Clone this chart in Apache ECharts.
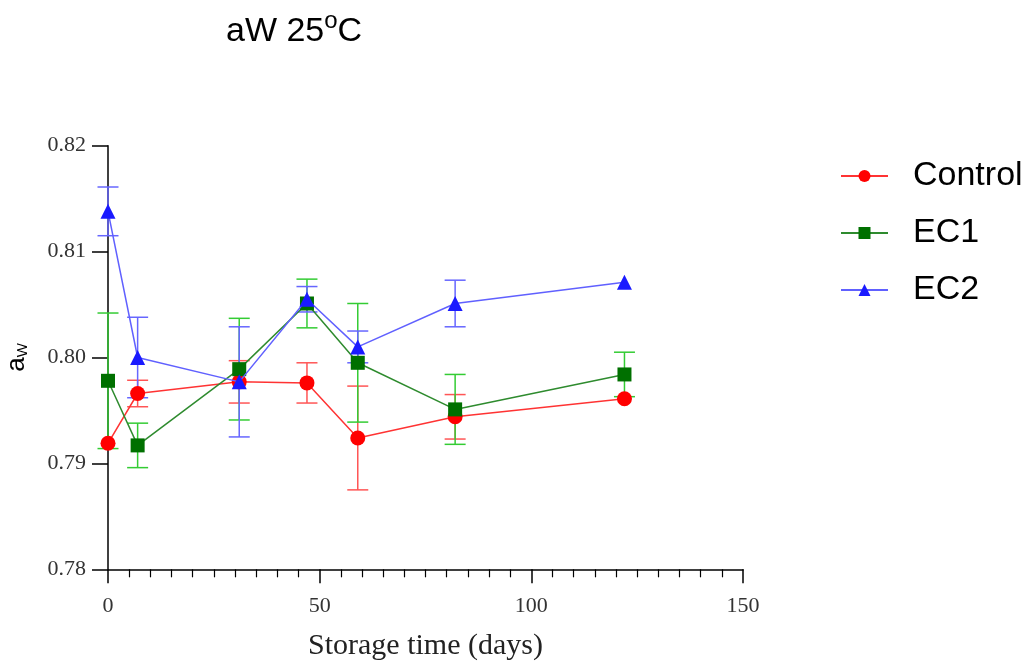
<!DOCTYPE html>
<html>
<head>
<meta charset="utf-8">
<script src="https://cdn.jsdelivr.net/npm/echarts@6/dist/echarts.min.js"></script>
<style>html,body{margin:0;padding:0;background:#fff}#c{width:1026px;height:662px}</style>
</head>
<body>
<div id="c"></div>
<script>
const days = [0, 7, 31, 47, 59, 82, 122];
const control = [0.7919, 0.7966, 0.7977, 0.7976, 0.7924, 0.7944, 0.7961];
const controlSd = [0, 0.00125, 0.0020, 0.0019, 0.0049, 0.0021, 0];
const ec1 = [0.7978, 0.7917, 0.7989, 0.8051, 0.7995, 0.7951, 0.7984];
const ec1Sd = [0.0064, 0.0021, 0.0048, 0.0023, 0.0056, 0.0033, 0.0021];
const ec2 = [0.8138, 0.8000, 0.7977, 0.8055, 0.8010, 0.8051, 0.8071];
const ec2Sd = [0.0023, 0.0038, 0.0052, 0.0012, 0.0015, 0.0022, 0];
const xTicks = [0, 50, 100, 150];
const yTicks = [0.78, 0.79, 0.80, 0.81, 0.82];

function pts(v) { return days.map((d, i) => [d, v[i]]); }
function errPts(v, s) { return days.map((d, i) => [d, v[i], s[i]]); }

function errRender(color) {
  return function (params, api) {
    const sd = api.value(2);
    if (!sd) return;
    const x = api.value(0), m = api.value(1);
    const top = api.coord([x, m + sd]);
    const bot = api.coord([x, m - sd]);
    const cw = 10.5;
    const st = { stroke: color, lineWidth: 1.5 };
    return {
      type: 'group',
      children: [
        { type: 'line', shape: { x1: top[0], y1: top[1], x2: bot[0], y2: bot[1] }, style: st },
        { type: 'line', shape: { x1: top[0] - cw, y1: top[1], x2: top[0] + cw, y2: top[1] }, style: st },
        { type: 'line', shape: { x1: bot[0] - cw, y1: bot[1], x2: bot[0] + cw, y2: bot[1] }, style: st }
      ]
    };
  };
}

const chart = echarts.init(document.getElementById('c'), null, { renderer: 'canvas' });
const serif = '"Liberation Serif", "DejaVu Serif", serif';
const sans = '"Liberation Sans", Arial, sans-serif';

chart.setOption({
  animation: false,
  backgroundColor: '#fff',
  title: {
    text: '{a|aW 25}{s|o}{a|C}',
    left: 221, top: 4,
    textStyle: {
      fontWeight: 'normal',
      rich: {
        a: { fontSize: 34, fontFamily: sans, fontWeight: 'normal', color: '#000', lineHeight: 40, verticalAlign: 'bottom' },
        s: { fontSize: 24, fontFamily: sans, fontWeight: 'normal', color: '#000', lineHeight: 40, verticalAlign: 'top', padding: [0, 0, 0, 0] }
      }
    }
  },
  legend: {
    orient: 'vertical',
    left: 835, top: 154,
    itemWidth: 47, itemHeight: 15, itemGap: 23,
    textStyle: { fontSize: 34, fontFamily: sans, color: '#000', padding: [0, 0, 0, 20] },
    data: ['Control', 'EC1', 'EC2']
  },
  grid: { left: 108, right: 283, top: 145.7, bottom: 92.7, containLabel: false, outerBoundsMode: 'none' },
  xAxis: {
    type: 'value', min: 0, max: 150, interval: 50,
    name: 'Storage time (days)', nameLocation: 'middle', nameGap: 62,
    nameTextStyle: { fontFamily: serif, fontSize: 30, color: '#222' },
    axisLine: { onZero: false, lineStyle: { color: '#000', width: 1.5 } },
    axisTick: { show: true, length: 14, lineStyle: { color: '#000', width: 1.5 } },
    minorTick: { show: true, splitNumber: 10, length: 8, lineStyle: { color: '#000', width: 1.2 } },
    axisLabel: { fontFamily: serif, fontSize: 22, color: '#333', margin: 26, customValues: xTicks },
    splitLine: { show: false }
  },
  yAxis: {
    type: 'value', min: 0.78, max: 0.82, interval: 0.01,
    name: 'a{w|W}', nameLocation: 'middle', nameGap: 78, nameRotate: 90,
    nameTextStyle: {
      rich: {
        w: { fontSize: 15, fontFamily: sans, color: '#000', verticalAlign: 'bottom', lineHeight: 26 }
      },
      fontSize: 26, fontFamily: sans, color: '#000', lineHeight: 26, verticalAlign: 'bottom'
    },
    axisLine: { show: true, lineStyle: { color: '#000', width: 1.5 } },
    axisTick: { show: true, length: 16, lineStyle: { color: '#000', width: 1.5 } },
    axisLabel: { fontFamily: serif, fontSize: 22, color: '#333', margin: 22, formatter: v => v.toFixed(2), customValues: yTicks },
    splitLine: { show: false }
  },
  series: [
    { type: 'custom', name: 'errC', renderItem: errRender('#ff5555'), data: errPts(control, controlSd), encode: { x: 0, y: 1 }, z: 2, silent: true },
    { type: 'custom', name: 'errE1', renderItem: errRender('#33cc33'), data: errPts(ec1, ec1Sd), encode: { x: 0, y: 1 }, z: 2, silent: true },
    { type: 'custom', name: 'errE2', renderItem: errRender('#6666ff'), data: errPts(ec2, ec2Sd), encode: { x: 0, y: 1 }, z: 2, silent: true },
    {
      type: 'line', name: 'Control', data: pts(control),
      symbol: 'circle', symbolSize: 15,
      lineStyle: { color: '#ff3333', width: 1.5 }, itemStyle: { color: '#ff0000' }, z: 3
    },
    {
      type: 'line', name: 'EC1', data: pts(ec1),
      symbol: 'rect', symbolSize: 14,
      lineStyle: { color: '#2e8b2e', width: 1.5 }, itemStyle: { color: '#007000' }, z: 4
    },
    {
      type: 'line', name: 'EC2', data: pts(ec2),
      symbol: 'triangle', symbolSize: 15,
      lineStyle: { color: '#6060ff', width: 1.5 }, itemStyle: { color: '#1a1aff' }, z: 5
    }
  ]
});
</script>
</body>
</html>
